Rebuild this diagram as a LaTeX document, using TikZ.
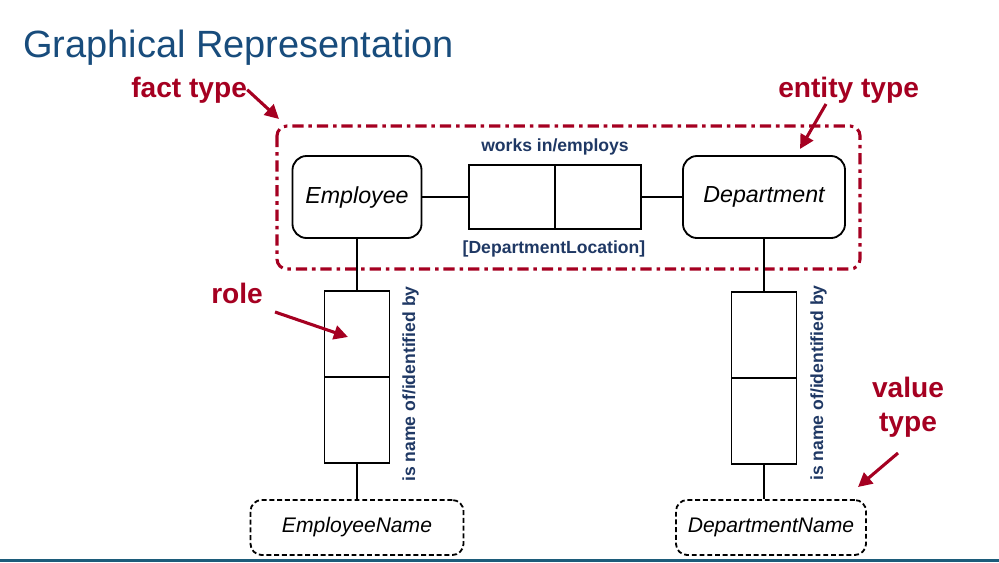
\documentclass[tikz,border=0pt]{standalone}
\usepackage{fontspec}
\setmainfont{Liberation Sans}
\usetikzlibrary{arrows.meta}
\definecolor{ormred}{RGB}{165,0,33}
\definecolor{ormblue}{RGB}{31,56,100}
\definecolor{titleblue}{RGB}{24,76,124}
\definecolor{barblue}{RGB}{28,92,122}

\begin{document}
\begin{tikzpicture}[x=0.025cm, y=-0.025cm,
  entity/.style={draw, rounded corners=10pt, line width=1.3pt, inner sep=0pt, minimum height=2.05cm, font=\fontsize{16.5}{19}\selectfont\itshape},
  rolebox/.style={draw, line width=1.3pt, inner sep=0pt},
  valuetype/.style={draw, dash pattern=on 3.5pt off 2pt, rounded corners=8pt, line width=1.3pt, inner sep=0pt, minimum height=1.375cm, font=\fontsize{15}{18}\selectfont\itshape},
  note/.style={text=ormred, inner sep=0pt, font=\fontsize{20}{24}\selectfont\bfseries},
  reading/.style={text=ormblue, inner sep=0pt, font=\fontsize{12.5}{15}\selectfont\bfseries},
  pointer/.style={draw=ormred, line width=2.2pt, -{Triangle[length=10pt,width=10pt]}},
  link/.style={line width=1.3pt}]
\useasboundingbox (0,0) rectangle (999,562);
\fill[barblue] (0,558.5) rectangle (999,562);
\node[anchor=base west, text=titleblue, inner sep=0pt, font=\fontsize{27}{32}\selectfont] (title) at (23,57) {Graphical Representation};
\draw[ormred, line width=2.2pt, dash pattern=on 8pt off 3.5pt on 2.5pt off 3.5pt, rounded corners=7pt] (277,126) rectangle (860,269);
\node[entity, minimum width=3.225cm] (E1) at (357,197) {Employee};
\node[entity, minimum width=4.05cm] (D1) at (764,197) {Department};
\node[rolebox, minimum width=2.15cm, minimum height=1.6cm] (F1) at (512,197) {};
\node[rolebox, minimum width=2.15cm, minimum height=1.6cm] (F2) at (598,197) {};
\node[rolebox, minimum width=1.625cm, minimum height=2.15cm] (R1) at (357,334) {};
\node[rolebox, minimum width=1.625cm, minimum height=2.15cm] (R2) at (357,420) {};
\node[rolebox, minimum width=1.625cm, minimum height=2.15cm] (R3) at (764,335) {};
\node[rolebox, minimum width=1.625cm, minimum height=2.15cm] (R4) at (764,421) {};
\node[valuetype, minimum width=5.325cm] (V1) at (357,527.5) {EmployeeName};
\node[valuetype, minimum width=4.75cm] (V2) at (771,527.5) {DepartmentName};
\draw[link] (E1) -- (F1);
\draw[link] (F2) -- (D1);
\draw[link] (E1) -- (R1);
\draw[link] (R2) -- (V1);
\draw[link] (D1) -- (R3);
\draw[link] (R4) -- (R4 |- V2.north);
\node[reading, anchor=base] (W1) at (555,151) {works in/employs};
\node[reading, anchor=base] (W2) at (554,253) {[DepartmentLocation]};
\node[reading, anchor=base west, rotate=90] (N1) at (415,482) {is name of/identified by};
\node[reading, anchor=base west, rotate=90] (N2) at (823,481) {is name of/identified by};
\node[note, anchor=base west] (ft) at (131,97) {fact type};
\node[note, anchor=base west] (et) at (778,97) {entity type};
\node[note, anchor=base west] (rl) at (211,303) {role};
\node[note, align=center] (vt) at (908,407) {value\\type};
\coordinate (ftto) at (279,119);
\coordinate (etfrom) at (826,104);
\coordinate (etto) at (800,149);
\coordinate (rlfrom) at (275,312);
\coordinate (rlto) at (348,337);
\coordinate (vtfrom) at (898,453);
\coordinate (vtto) at (858,487);
\draw[pointer] (ft.east) -- (ftto);
\draw[pointer] (etfrom) -- (etto);
\draw[pointer] (rlfrom) -- (rlto);
\draw[pointer] (vtfrom) -- (vtto);
\end{tikzpicture}
\end{document}
